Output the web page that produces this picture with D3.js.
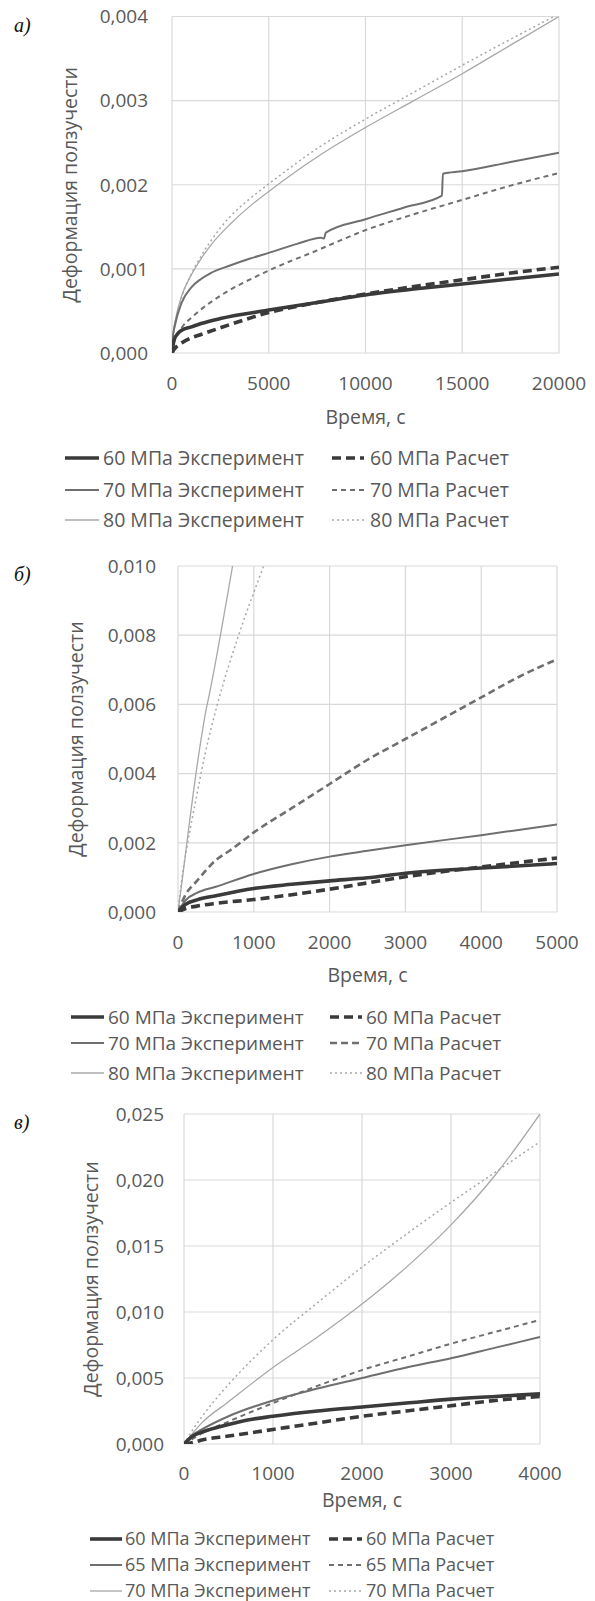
<!DOCTYPE html>
<html>
<head>
<meta charset="utf-8">
<script src="https://cdn.jsdelivr.net/npm/d3@7"></script>
<style>
  body { margin: 0; background: #fff; }
  text { font-family: "Open Sans", sans-serif; fill: #595959; }
  .panel { font-family: "Liberation Serif", serif; font-style: italic; fill: #111; }
</style>
</head>
<body>
<div id="chart"></div>
<script>
// creep strain vs time, three panels (а, б, в)

// panel а: 60 / 70 / 80 MPa, time 0..20000 s
var a60exp  = [[0,0],[100,0.00015],[300,0.00023],[500,0.00027],[1000,0.00031],[1500,0.00035],[2500,0.00041],[5000,0.00051],[7500,0.0006],[10000,0.00069],[12500,0.00076],[15000,0.00082],[17500,0.00088],[20000,0.00094]];
var a60calc = [[0,0],[100,0.00004],[300,0.00009],[500,0.00012],[1000,0.00018],[1500,0.00022],[2500,0.0003],[5000,0.00048],[7500,0.0006],[10000,0.0007],[12500,0.00079],[15000,0.00087],[17500,0.00095],[20000,0.00102]];
var a70exp  = [[0,0],[50,0.0002],[150,0.00033],[500,0.0006],[1000,0.00078],[1500,0.00088],[2000,0.00095],[3000,0.00104],[4000,0.00112],[5000,0.00119],[6500,0.0013],[7700,0.00137],[7850,0.00136],[7950,0.00143],[10000,0.00159],[12000,0.00173],[13950,0.00187],[14000,0.00213],[15000,0.00216],[17500,0.00227],[20000,0.00238]];
var a70calc = [[0,0],[100,0.00012],[200,0.00018],[500,0.0003],[1000,0.00042],[1400,0.0005],[2500,0.00068],[5000,0.00098],[7500,0.00122],[10000,0.00146],[12500,0.00165],[15000,0.00182],[17500,0.00199],[20000,0.00214]];
var a80exp  = [[0,0],[50,0.0002],[200,0.00042],[500,0.00068],[1000,0.00093],[1500,0.00112],[2000,0.00128],[3000,0.00153],[4000,0.00174],[5000,0.00192],[7500,0.00233],[10000,0.00268],[12500,0.003],[15000,0.00332],[17500,0.00366],[20000,0.004]];
var a80calc = [[0,0],[50,0.00016],[200,0.00038],[500,0.00066],[1000,0.00094],[1500,0.00115],[2000,0.00133],[3000,0.00162],[4000,0.00183],[5000,0.00201],[7500,0.00243],[10000,0.00278],[12500,0.0031],[15000,0.00342],[17500,0.00373],[20000,0.00403]];

// panel б: 60 / 70 / 80 MPa, time 0..5000 s
var b60exp  = [[0,0],[100,0.00022],[250,0.00035],[500,0.00047],[1000,0.00068],[1500,0.0008],[2000,0.0009],[2500,0.00099],[3000,0.00112],[4000,0.00127],[5000,0.0014]];
var b60calc = [[0,0],[100,0.0001],[250,0.00017],[500,0.00025],[1000,0.00036],[1500,0.0005],[2000,0.00066],[2500,0.00084],[3000,0.00102],[4000,0.0013],[5000,0.00156]];
var b70exp  = [[0,0],[100,0.00034],[250,0.00055],[500,0.00073],[1000,0.0011],[1500,0.00138],[2000,0.0016],[2500,0.00177],[3000,0.00193],[4000,0.00222],[5000,0.00253]];
var b70calc = [[0,0],[100,0.0005],[250,0.0009],[500,0.0015],[700,0.0018],[1000,0.0023],[1500,0.003],[2000,0.0037],[2500,0.0044],[3000,0.005],[3500,0.0056],[4000,0.0062],[4500,0.0068],[5000,0.0073]];
var b80exp  = [[0,0],[60,0.001],[140,0.0024],[270,0.0045],[385,0.006],[395,0.0061],[560,0.008],[720,0.01],[800,0.011]];
var b80calc = [[0,0],[60,0.0011],[120,0.0019],[250,0.0034],[360,0.0046],[520,0.006],[800,0.008],[1130,0.01],[1300,0.011]];

// panel в: 60 / 65 / 70 MPa, time 0..4000 s
var c60exp  = [[0,0],[100,0.0006],[200,0.0009],[400,0.0013],[700,0.0018],[1000,0.0021],[1500,0.0025],[2000,0.0028],[2500,0.0031],[3000,0.0034],[3500,0.0036],[4000,0.0038]];
var c60calc = [[0,0],[100,0.00012],[200,0.0003],[500,0.0006],[1000,0.0011],[1500,0.0016],[2000,0.0021],[2500,0.0025],[3000,0.0029],[3500,0.0033],[4000,0.0036]];
var c65exp  = [[0,0],[100,0.0007],[200,0.0011],[500,0.0021],[1000,0.0033],[1500,0.0042],[2000,0.005],[2500,0.0058],[3000,0.0065],[3500,0.0073],[4000,0.0081]];
var c65calc = [[0,0],[100,0.0004],[200,0.0008],[500,0.0017],[1000,0.0031],[1500,0.0044],[2000,0.0056],[2500,0.0066],[3000,0.0076],[3500,0.0085],[4000,0.0094]];
var c70exp  = [[0,0],[200,0.0016],[500,0.0032],[1000,0.0058],[1500,0.0081],[2000,0.0106],[2500,0.0134],[3000,0.0166],[3500,0.0204],[4000,0.025]];
var c70calc = [[0,0],[100,0.0011],[250,0.0025],[500,0.0045],[1000,0.0079],[1500,0.0107],[2000,0.0134],[2500,0.0159],[3000,0.0183],[3500,0.0206],[4000,0.0229]];

// tick values
var aXTicks = [0, 5000, 10000, 15000, 20000];
var aYTicks = [0, 0.001, 0.002, 0.003, 0.004];
var bXTicks = [0, 1000, 2000, 3000, 4000, 5000];
var bYTicks = [0, 0.002, 0.004, 0.006, 0.008, 0.010];
var cXTicks = [0, 1000, 2000, 3000, 4000];
var cYTicks = [0, 0.005, 0.010, 0.015, 0.020, 0.025];

// legend labels
var aLabels = ["60 МПа Эксперимент", "60 МПа Расчет", "70 МПа Эксперимент", "70 МПа Расчет", "80 МПа Эксперимент", "80 МПа Расчет"];
var cLabels = ["60 МПа Эксперимент", "60 МПа Расчет", "65 МПа Эксперимент", "65 МПа Расчет", "70 МПа Эксперимент", "70 МПа Расчет"];

var xTitle = "Время, с";
var yTitle = "Деформация ползучести";

// line styles: dark thick, medium, light thin
var styles = [
    { color: "#3a3a3a", width: 3.6, dash: null },
    { color: "#3a3a3a", width: 3.6, dash: "9,5" },
    { color: "#6f6f6f", width: 2.0, dash: null },
    { color: "#6f6f6f", width: 2.0, dash: "5,4" },
    { color: "#a8a8a8", width: 1.3, dash: null },
    { color: "#a8a8a8", width: 1.5, dash: "2,3" }
];

var svg = d3.select("#chart")
    .append("svg")
    .attr("width", 595)
    .attr("height", 1601);

var fmt = d3.format(".3f");
var tickFmt = function (v) { return fmt(v).replace(".", ","); };

function drawPanel(cfg) {
    var x = d3.scaleLinear().domain(cfg.xDomain).range([cfg.left, cfg.right]);
    var y = d3.scaleLinear().domain(cfg.yDomain).range([cfg.bottom, cfg.top]);
    var g = svg.append("g");

    // grid
    g.selectAll(".hgrid").data(cfg.yTicks).enter().append("line")
        .attr("x1", cfg.left).attr("x2", cfg.right)
        .attr("y1", d => y(d)).attr("y2", d => y(d))
        .attr("stroke", "#d9d9d9").attr("stroke-width", 1.2);
    g.selectAll(".vgrid").data(cfg.xTicks).enter().append("line")
        .attr("y1", cfg.top).attr("y2", cfg.bottom)
        .attr("x1", d => x(d)).attr("x2", d => x(d))
        .attr("stroke", "#d9d9d9").attr("stroke-width", 1.2);

    // tick labels
    g.selectAll(".ylab").data(cfg.yTicks).enter().append("text")
        .attr("x", cfg.left - cfg.yLabGap)
        .attr("y", d => y(d))
        .attr("dy", "0.36em")
        .attr("text-anchor", "end")
        .style("font-size", "19px")
        .text(tickFmt);
    g.selectAll(".xlab").data(cfg.xTicks).enter().append("text")
        .attr("x", d => x(d))
        .attr("y", cfg.bottom + cfg.xLabGap)
        .attr("dy", "0.36em")
        .attr("text-anchor", "middle")
        .style("font-size", "19px")
        .text(d => d);

    // axis titles
    g.append("text")
        .attr("x", (cfg.left + cfg.right) / 2)
        .attr("y", cfg.bottom + cfg.xTitleGap)
        .attr("dy", "0.36em")
        .attr("text-anchor", "middle")
        .style("font-size", "19.5px")
        .text(xTitle);
    g.append("text")
        .attr("transform", `translate(${cfg.yTitleX}, ${(cfg.top + cfg.bottom) / 2}) rotate(-90)`)
        .attr("dy", "0.36em")
        .attr("text-anchor", "middle")
        .style("font-size", "19.5px")
        .text(yTitle);

    // panel letter
    svg.append("text")
        .attr("class", "panel")
        .attr("x", 14)
        .attr("y", cfg.top + 8)
        .attr("dy", "0.36em")
        .style("font-size", "20px")
        .text(cfg.letter);

    // curves, clipped to the plot area
    var clipId = "clip" + cfg.letter.charCodeAt(0);
    svg.append("clipPath").attr("id", clipId)
        .append("rect")
        .attr("x", cfg.left).attr("y", cfg.top)
        .attr("width", cfg.right - cfg.left).attr("height", cfg.bottom - cfg.top);

    var line = d3.line()
        .x(d => x(d[0]))
        .y(d => y(d[1]))
        .curve(d3.curveMonotoneX);

    var order = [4, 5, 2, 3, 0, 1]; // light ones first, heavy on top
    order.forEach(function (i) {
        var st = cfg.styles[i];
        g.append("path")
            .datum(cfg.series[i])
            .attr("clip-path", `url(#${clipId})`)
            .attr("fill", "none")
            .attr("stroke", st.color)
            .attr("stroke-width", st.width)
            .attr("stroke-dasharray", st.dash)
            .attr("d", line);
    });

    // legend, two columns x three rows
    cfg.labels.forEach(function (lab, i) {
        var st = cfg.styles[i];
        var col = i % 2;
        var row = Math.floor(i / 2);
        var ly = cfg.legendRows[row];
        var lx = cfg.legendCols[col];
        g.append("line")
            .attr("x1", lx[0]).attr("x2", lx[1])
            .attr("y1", ly).attr("y2", ly)
            .attr("stroke", st.color)
            .attr("stroke-width", st.width)
            .attr("stroke-dasharray", st.dash);
        g.append("text")
            .attr("x", lx[2])
            .attr("y", ly)
            .attr("dy", "0.36em")
            .style("font-size", cfg.legendFont)
            .text(lab);
    });
}

drawPanel({
    letter: "а)",
    left: 172, right: 559, top: 16.5, bottom: 353,
    xDomain: [0, 20000], yDomain: [0, 0.004],
    xTicks: aXTicks, yTicks: aYTicks,
    yLabGap: 24, xLabGap: 30, xTitleGap: 64, yTitleX: 70,
    series: [a60exp, a60calc, a70exp, a70calc, a80exp, a80calc],
    styles: styles,
    labels: aLabels,
    legendRows: [458, 490, 520],
    legendCols: [[65, 99, 103], [332, 364, 370]],
    legendFont: "19.5px"
});

drawPanel({
    letter: "б)",
    left: 178, right: 557, top: 566, bottom: 912,
    xDomain: [0, 5000], yDomain: [0, 0.010],
    xTicks: bXTicks, yTicks: bYTicks,
    yLabGap: 22, xLabGap: 30, xTitleGap: 63, yTitleX: 76,
    series: [b60exp, b60calc, b70exp, b70calc, b80exp, b80calc],
    styles: [styles[0], styles[1], styles[2],
        { color: "#6f6f6f", width: 2.6, dash: "7,4" }, styles[4], styles[5]],
    labels: aLabels,
    legendRows: [1017, 1043, 1073],
    legendCols: [[71, 104, 108], [330, 362, 366]],
    legendFont: "19px"
});

drawPanel({
    letter: "в)",
    left: 184, right: 540, top: 1114, bottom: 1444,
    xDomain: [0, 4000], yDomain: [0, 0.025],
    xTicks: cXTicks, yTicks: cYTicks,
    yLabGap: 20, xLabGap: 29, xTitleGap: 56, yTitleX: 91,
    series: [c60exp, c60calc, c65exp, c65calc, c70exp, c70calc],
    styles: styles,
    labels: cLabels,
    legendRows: [1539, 1565, 1591],
    legendCols: [[90, 122, 125], [329, 362, 366]],
    legendFont: "18px"
});
</script>
</body>
</html>
